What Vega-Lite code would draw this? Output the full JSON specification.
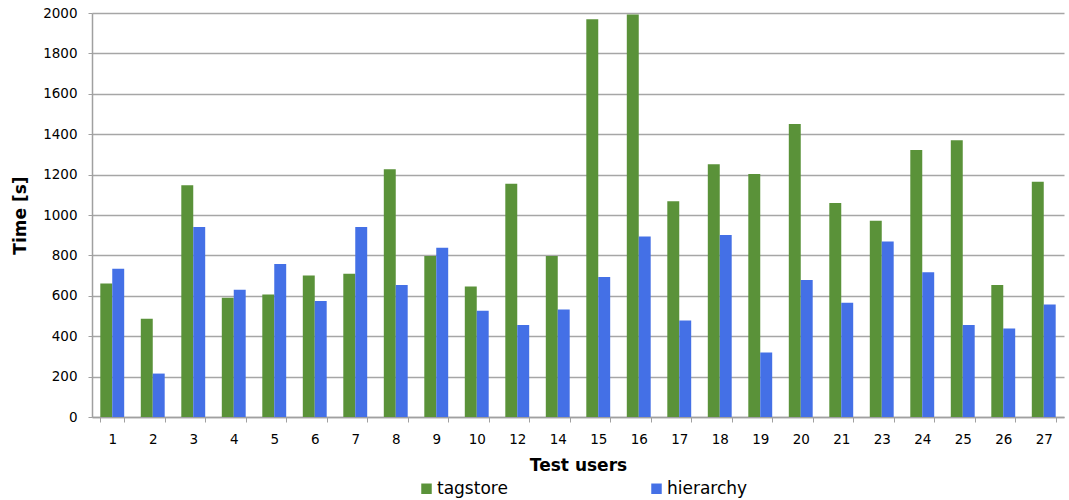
{
  "$schema": "https://vega.github.io/schema/vega-lite/v6.json",
  "width": 972,
  "height": 404,
  "autosize": {"type": "none"},
  "padding": {"left": 92, "top": 13, "right": 5, "bottom": 83},
  "background": "white",
  "config": {
    "font": "DejaVu Sans",
    "view": {"stroke": null},
    "axis": {"labelFont": "DejaVu Sans", "titleFont": "DejaVu Sans", "labelColor": "#000", "titleColor": "#000"}
  },
  "data": {
    "values": [
      {"user": "1", "series": "tagstore", "value": 661}, {"user": "1", "series": "hierarchy", "value": 734},
      {"user": "2", "series": "tagstore", "value": 486}, {"user": "2", "series": "hierarchy", "value": 215},
      {"user": "3", "series": "tagstore", "value": 1147}, {"user": "3", "series": "hierarchy", "value": 941},
      {"user": "4", "series": "tagstore", "value": 590}, {"user": "4", "series": "hierarchy", "value": 630},
      {"user": "5", "series": "tagstore", "value": 607}, {"user": "5", "series": "hierarchy", "value": 757},
      {"user": "6", "series": "tagstore", "value": 701}, {"user": "6", "series": "hierarchy", "value": 574},
      {"user": "7", "series": "tagstore", "value": 709}, {"user": "7", "series": "hierarchy", "value": 941},
      {"user": "8", "series": "tagstore", "value": 1227}, {"user": "8", "series": "hierarchy", "value": 653},
      {"user": "9", "series": "tagstore", "value": 797}, {"user": "9", "series": "hierarchy", "value": 838},
      {"user": "10", "series": "tagstore", "value": 646}, {"user": "10", "series": "hierarchy", "value": 526},
      {"user": "12", "series": "tagstore", "value": 1155}, {"user": "12", "series": "hierarchy", "value": 455},
      {"user": "14", "series": "tagstore", "value": 797}, {"user": "14", "series": "hierarchy", "value": 532},
      {"user": "15", "series": "tagstore", "value": 1969}, {"user": "15", "series": "hierarchy", "value": 693},
      {"user": "16", "series": "tagstore", "value": 1992}, {"user": "16", "series": "hierarchy", "value": 893},
      {"user": "17", "series": "tagstore", "value": 1068}, {"user": "17", "series": "hierarchy", "value": 478},
      {"user": "18", "series": "tagstore", "value": 1251}, {"user": "18", "series": "hierarchy", "value": 901},
      {"user": "19", "series": "tagstore", "value": 1203}, {"user": "19", "series": "hierarchy", "value": 319},
      {"user": "20", "series": "tagstore", "value": 1450}, {"user": "20", "series": "hierarchy", "value": 678},
      {"user": "21", "series": "tagstore", "value": 1060}, {"user": "21", "series": "hierarchy", "value": 565},
      {"user": "23", "series": "tagstore", "value": 972}, {"user": "23", "series": "hierarchy", "value": 869},
      {"user": "24", "series": "tagstore", "value": 1322}, {"user": "24", "series": "hierarchy", "value": 717},
      {"user": "25", "series": "tagstore", "value": 1370}, {"user": "25", "series": "hierarchy", "value": 455},
      {"user": "26", "series": "tagstore", "value": 653}, {"user": "26", "series": "hierarchy", "value": 438},
      {"user": "27", "series": "tagstore", "value": 1164}, {"user": "27", "series": "hierarchy", "value": 557}
    ]
  },
  "mark": {"type": "bar"},
  "encoding": {
    "x": {
      "field": "user", "type": "ordinal", "sort": null,
      "scale": {"paddingInner": 0.41, "paddingOuter": 0.205},
      "axis": {
        "title": "Test users", "titleFontSize": 17, "titleFontWeight": "bold", "titlePadding": 12,
        "labelAngle": 0, "labelFontSize": 13.5, "labelPadding": 10,
        "tickBand": "extent", "tickSize": 5, "tickColor": "#a0a0a0",
        "domainColor": "#a0a0a0", "domainWidth": 1.5, "grid": false
      }
    },
    "xOffset": {"field": "series", "type": "nominal", "sort": ["tagstore", "hierarchy"], "scale": {"paddingInner": 0, "paddingOuter": 0}},
    "y": {
      "field": "value", "type": "quantitative",
      "scale": {"domain": [0, 2000], "nice": false},
      "axis": {
        "title": "Time [s]", "titleFontSize": 17, "titleFontWeight": "bold", "titlePadding": 13,
        "values": [0, 200, 400, 600, 800, 1000, 1200, 1400, 1600, 1800, 2000],
        "format": "d",
        "labelFontSize": 13.5, "labelPadding": 11,
        "tickSize": 4, "tickColor": "#a0a0a0",
        "grid": true, "gridColor": "#a6a6a6", "gridWidth": 1.3,
        "domainColor": "#a0a0a0", "domainWidth": 1.5
      }
    },
    "color": {
      "field": "series", "type": "nominal",
      "scale": {"domain": ["tagstore", "hierarchy"], "range": ["#5a9239", "#4470e6"]},
      "legend": {
        "title": null, "orient": "none", "legendX": 326, "legendY": 467,
        "direction": "horizontal", "symbolType": "square", "symbolSize": 110,
        "symbolStrokeWidth": 0, "labelFontSize": 17, "labelColor": "#000",
        "labelOffset": 2, "columnPadding": 140
      }
    }
  }
}
